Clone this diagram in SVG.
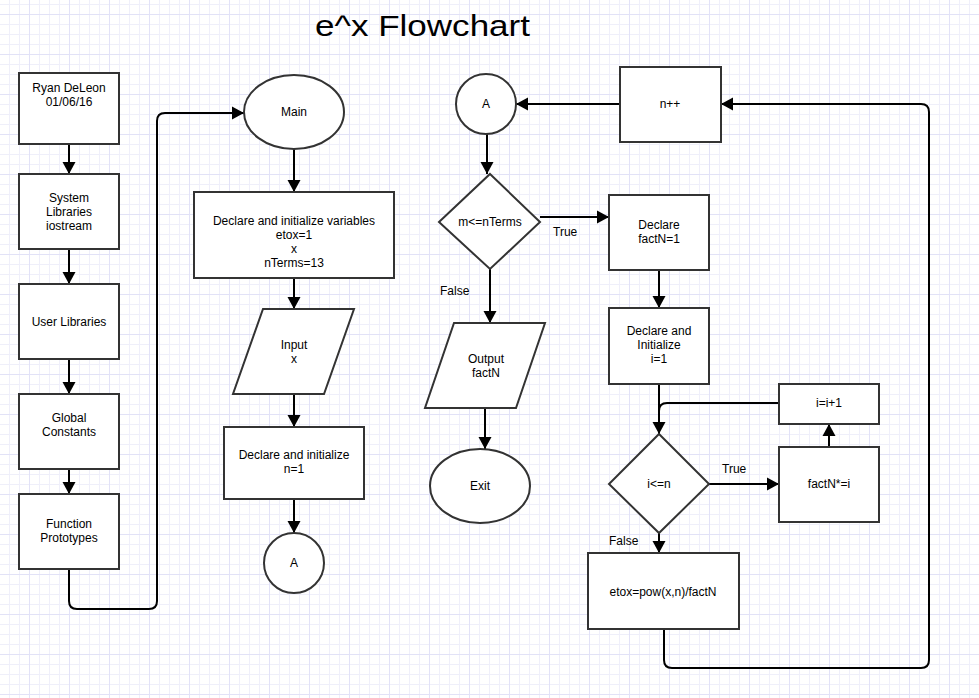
<svg xmlns="http://www.w3.org/2000/svg" width="979" height="698" viewBox="0 0 979 698">
<defs>
<pattern id="grid" patternUnits="userSpaceOnUse" x="29" y="14" width="40" height="40">
<rect width="40" height="40" fill="#ffffff"/>
<path d="M10.5,0V40M20.5,0V40M30.5,0V40M0,10.5H40M0,20.5H40M0,30.5H40" stroke="#efeffa" stroke-width="1" fill="none"/>
<path d="M0.5,0V40M0,0.5H40" stroke="#e2e2f7" stroke-width="1" fill="none"/>
</pattern>
<marker id="arr" markerUnits="userSpaceOnUse" viewBox="-1 -7 14 14" markerWidth="14" markerHeight="14" refX="12" refY="0" orient="auto">
<path d="M0,-6.5L12,0L0,6.5z" fill="#000"/>
</marker>
<style>
.s{fill:#fff;stroke:#333;stroke-width:2}
.c{fill:none;stroke:#000;stroke-width:2;marker-end:url(#arr)}
.p{fill:none;stroke:#000;stroke-width:2}
text{font-family:"Liberation Sans",Arial,sans-serif;font-size:12px;fill:#000;text-anchor:middle}
.l{text-anchor:start}
</style>
</defs>
<rect width="979" height="698" fill="url(#grid)"/>
<text x="315" y="36" class="l" style="font-size:30px" textLength="215" lengthAdjust="spacingAndGlyphs">e^x Flowchart</text>

<g id="connectors">
<path class="c" d="M69,144V174"/>
<path class="c" d="M69,249V284"/>
<path class="c" d="M69,359V394"/>
<path class="c" d="M69,469V494"/>
<path class="c" d="M69,569V601Q69,609 77,609H149Q157,609 157,601V121Q157,113 165,113H244"/>
<path class="c" d="M294,149V192"/>
<path class="c" d="M294,278V309"/>
<path class="c" d="M294,394V427"/>
<path class="c" d="M294,499V533"/>
<path class="c" d="M620,104H516"/>
<path class="c" d="M487,134V174"/>
<path class="c" d="M540,217H609"/>
<path class="c" d="M490,269V323"/>
<path class="c" d="M485,408V449"/>
<path class="c" d="M659,270V308"/>
<path class="p" d="M659,384V420"/>
<path class="c" d="M779,403H667Q659,403 659,411V434"/>
<path class="c" d="M709,484H779"/>
<path class="c" d="M829,447V424"/>
<path class="c" d="M659,533V553"/>
<path class="c" d="M664,629V660Q664,668 672,668H921Q929,668 929,660V112Q929,104 921,104H721"/>
<text x="553" y="236" class="l">True</text>
<text x="440" y="295" class="l">False</text>
<text x="722" y="473" class="l">True</text>
<text x="609" y="545" class="l">False</text>
</g>

<g id="author"><rect class="s" x="19" y="73" width="100" height="71"/><text x="69" y="92">Ryan DeLeon</text><text x="69" y="106">01/06/16</text></g>
<g id="syslib"><rect class="s" x="19" y="174" width="100" height="75"/><text x="69" y="202">System</text><text x="69" y="216">Libraries</text><text x="69" y="230">iostream</text></g>
<g id="userlib"><rect class="s" x="19" y="284" width="100" height="75"/><text x="69" y="326">User Libraries</text></g>
<g id="global"><rect class="s" x="19" y="394" width="100" height="75"/><text x="69" y="422">Global</text><text x="69" y="436">Constants</text></g>
<g id="proto"><rect class="s" x="19" y="494" width="100" height="75"/><text x="69" y="528">Function</text><text x="69" y="542">Prototypes</text></g>

<g id="main"><ellipse class="s" cx="294" cy="112" rx="50" ry="37"/><text x="294" y="116">Main</text></g>
<g id="declare"><rect class="s" x="194" y="192" width="200" height="86"/><text x="294" y="225">Declare and initialize variables</text><text x="294" y="239">etox=1</text><text x="294" y="253">x</text><text x="294" y="267">nTerms=13</text></g>
<g id="input"><polygon class="s" points="263,309 354,309 324,394 233,394"/><text x="294" y="349">Input</text><text x="294" y="363">x</text></g>
<g id="declaren"><rect class="s" x="224" y="427" width="140" height="72"/><text x="294" y="459">Declare and initialize</text><text x="294" y="473">n=1</text></g>
<g id="a1"><circle class="s" cx="294" cy="563" r="30"/><text x="294" y="567">A</text></g>

<g id="a2"><circle class="s" cx="486" cy="104" r="30"/><text x="486" y="108">A</text></g>
<g id="nplus"><rect class="s" x="620" y="67" width="101" height="75"/><text x="670" y="108">n++</text></g>
<g id="cond1"><polygon class="s" points="490,174 540,222 490,269 439,222"/><text x="490" y="226">m&lt;=nTerms</text></g>
<g id="output"><polygon class="s" points="454,323 545,323 516,408 425,408"/><text x="486" y="363">Output</text><text x="486" y="377">factN</text></g>
<g id="exit"><ellipse class="s" cx="480" cy="486" rx="50" ry="37"/><text x="480" y="490">Exit</text></g>
<g id="factn"><rect class="s" x="609" y="195" width="100" height="75"/><text x="659" y="229">Declare</text><text x="659" y="243">factN=1</text></g>
<g id="initi"><rect class="s" x="609" y="308" width="100" height="76"/><text x="659" y="335">Declare and</text><text x="659" y="349">Initialize</text><text x="659" y="363">i=1</text></g>
<g id="incr"><rect class="s" x="779" y="384" width="100" height="40"/><text x="829" y="407">i=i+1</text></g>
<g id="cond2"><polygon class="s" points="659,434 709,484 659,533 609,484"/><text x="659" y="488">i&lt;=n</text></g>
<g id="mult"><rect class="s" x="779" y="447" width="100" height="75"/><text x="829" y="488">factN*=i</text></g>
<g id="etox"><rect class="s" x="588" y="553" width="151" height="76"/><text x="663" y="596">etox=pow(x,n)/factN</text></g>
</svg>
